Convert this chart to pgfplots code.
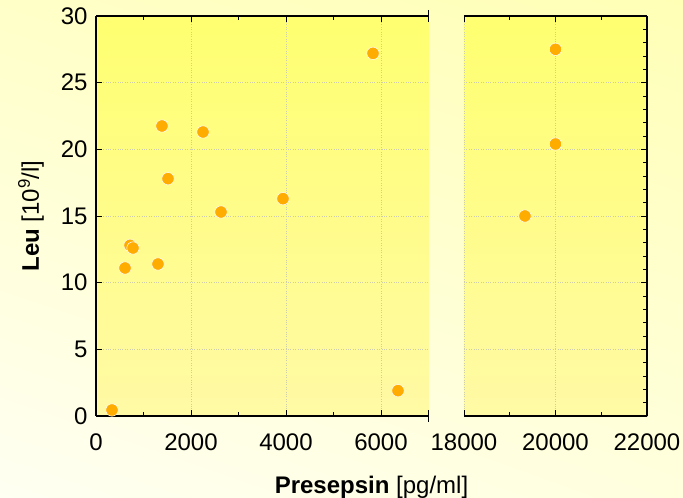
\documentclass[border=0pt]{standalone}
\usepackage{pgfplots}
\pgfplotsset{compat=1.18}
\usetikzlibrary{shadings}
\usepackage{fontspec}
\setmainfont{Liberation Sans}
\definecolor{dotcol}{RGB}{255,172,0}
\definecolor{bgll}{RGB}{255,255,242}
\definecolor{bgur}{RGB}{255,255,182}
\definecolor{bgul}{RGB}{255,255,200}
\definecolor{bglr}{RGB}{255,255,222}
\definecolor{ptop}{RGB}{255,255,112}
\definecolor{pbot}{RGB}{255,250,165}
\definecolor{gridcol}{RGB}{205,205,170}

\pgfplotsset{
  breakax/.style={
    scale only axis, height=400pt,
    ymin=0, ymax=30, ytick={0,5,...,30},
    axis x line*=box, xtick pos=both,
    tick align=inside,
    major tick length=6pt, minor tick length=4pt,
    axis line style={line width=1.1pt},
    every tick/.style={black, line width=0.9pt},
    grid=major, grid style={dotted, gridcol, line width=0.6pt},
    tick label style={font=\fontsize{24}{28}\selectfont},
    xticklabel style={yshift=-14pt},
    yticklabel style={xshift=-5pt},
    /pgf/number format/assume math mode=true,
    /pgf/number format/set thousands separator={},
    scaled x ticks=false,
    axis background/.style={shade, top color=ptop, bottom color=pbot},
    clip=false,
  },
  dots/.style={only marks, mark=*, mark size=6.2pt,
    mark options={fill=dotcol, draw=white, line width=0.5pt}},
}

\begin{document}
\begin{tikzpicture}[x=1pt,y=1pt]
\shade[upper left=bgul, upper right=bgur, lower left=bgll, lower right=bglr]
  (0,0) rectangle (683,498);

% left part 0..7000
\begin{axis}[breakax, at={(96pt,82pt)}, anchor=south west,
  width=332.5pt, xmin=0, xmax=7000,
  xtick={0,2000,4000,6000}, minor xtick={1000,3000,5000},
  axis y line*=left, ytick pos=left]
\addplot[dots] coordinates {
 (337,0.45) (611,11.1) (716,12.8) (779,12.6) (1305,11.4) (1389,21.75)
 (1516,17.8) (2253,21.3) (2632,15.3) (3937,16.3) (5832,27.2) (6358,1.9)};
\draw[line width=1.1pt] (axis cs:7000,30) ++(0,-6pt) -- ++(0,12pt);
\draw[line width=1.1pt] (axis cs:7000,0) ++(0,-6pt) -- ++(0,12pt);
\end{axis}

% right part 18000..22000
\begin{axis}[breakax, at={(464pt,82pt)}, anchor=south west,
  width=183pt, xmin=18000, xmax=22000,
  xtick={18000,20000,22000}, minor xtick={19000,21000},
  minor ytick={1,...,29},
  axis y line*=right, ytick pos=right, yticklabels={}]
\addplot[dots] coordinates {(19333,15.0) (20000,20.4) (20000,27.5)};
\draw[line width=1.1pt] (axis cs:18000,30) ++(0,-6pt) -- ++(0,12pt);
\draw[line width=1.1pt] (axis cs:18000,0) ++(0,-6pt) -- ++(0,12pt);
\end{axis}

\node[font=\fontsize{24}{28}\selectfont] at (371.5,11)
  {\textbf{Presepsin} [pg/ml]};
\node[font=\fontsize{24}{28}\selectfont, rotate=90] at (31,282)
  {\textbf{Leu} [10\textsuperscript{9}/l]};

\pgfresetboundingbox
\path (0,0) rectangle (683,498);
\end{tikzpicture}
\end{document}
